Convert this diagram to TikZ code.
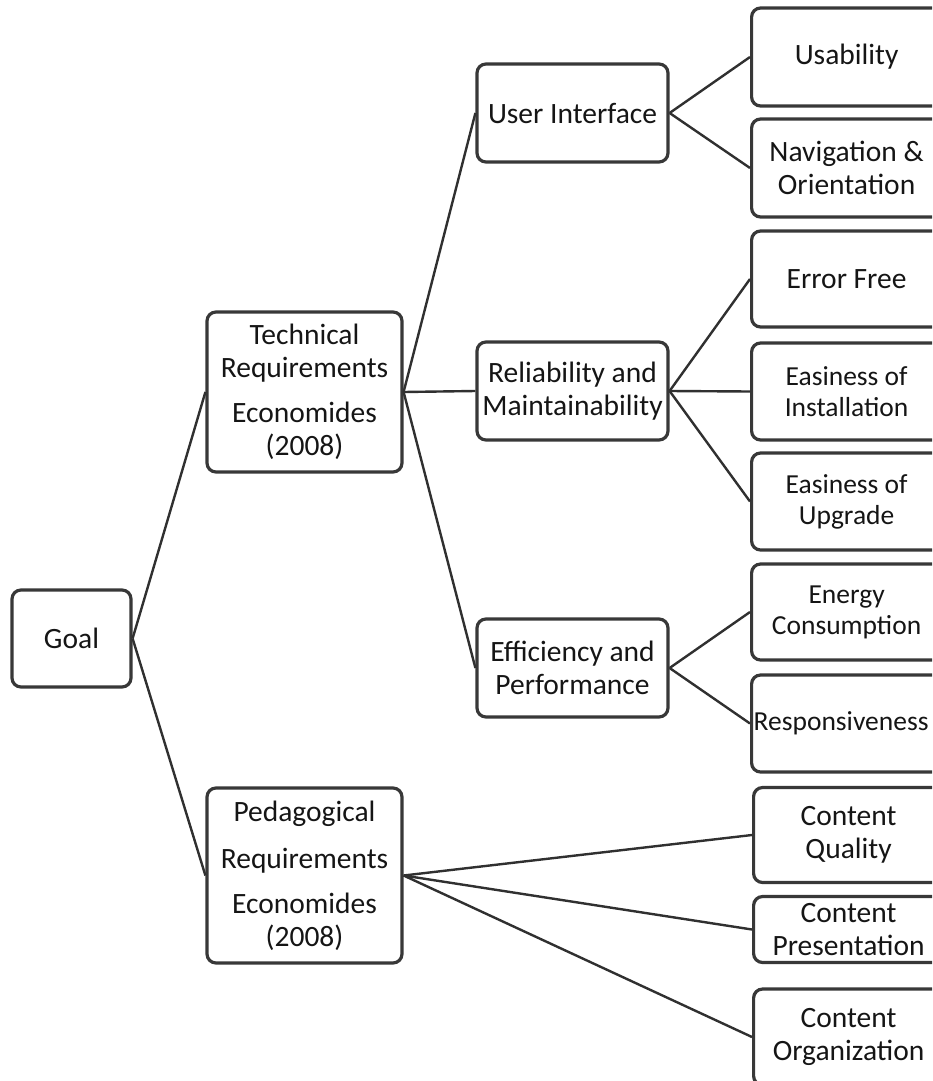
\documentclass[tikz,border=0pt]{standalone}
\usepackage{fontspec}
\setmainfont{Carlito}
\definecolor{boxc}{HTML}{383838}
\definecolor{linec}{HTML}{303030}
\definecolor{txt}{HTML}{151515}
\begin{document}
\begin{tikzpicture}[x=1pt,y=-1pt,
  box/.style={draw=boxc, line width=3.2pt, rounded corners=9pt, inner sep=0pt, align=center,
    font=\fontsize{29.5}{33}\selectfont, text=txt},
  leaf/.style={box, anchor=west, minimum width=190pt},
  small/.style={font=\fontsize{27.5}{31}\selectfont},
  link/.style={draw=linec, line width=2.4pt}]
\useasboundingbox (0,0) rectangle (932,1081);
\clip (0,0) rectangle (932,1081);

% root
\node[box, minimum width=119pt, minimum height=97pt] (goal) at (71.5,638.5) {Goal};

% level 1
\node[box, minimum width=195pt, minimum height=160pt] (tech) at (304.5,392)
  {Technical\\Requirements\\[12pt]Economides\\(2008)};
\node[box, minimum width=195pt, minimum height=175pt] (ped) at (304.5,875.5)
  {Pedagogical\\[14pt]Requirements\\[12pt]Economides\\(2008)};

% level 2
\node[box, minimum width=191pt, minimum height=98pt] (ui) at (572.5,113) {User Interface};
\node[box, minimum width=191pt, minimum height=98pt] (rel) at (572.5,391) {Reliability and\\Maintainability};
\node[box, minimum width=191pt, minimum height=98pt] (eff) at (572.5,668) {Efficiency and\\Performance};

% level 3 (right column, clipped at the right edge)
\node[leaf, minimum height=98pt] (usab) at (750,57) {Usability};
\node[leaf, minimum height=98pt] (nav) at (750,168) {Navigation \&\\Orientation};
\node[leaf, minimum height=96pt] (err) at (750,279) {Error Free};
\node[leaf, small, minimum height=97pt] (inst) at (750,391.5) {Easiness of\\Installation};
\node[leaf, small, minimum height=97pt] (upg) at (750,501.5) {Easiness of\\Upgrade};
\node[leaf, small, minimum height=96pt] (ener) at (750,612) {Energy\\Consumption};
\node[leaf, small, minimum height=97pt] (resp) at (750,723.5) {Responsiveness\hspace*{11pt}};
\node[leaf, minimum height=95pt] (cq) at (752,835) {Content\\Quality};
\node[leaf, minimum height=66pt] (cp) at (752,929.5) {Content\\Presentation};
\node[leaf, minimum height=96pt] (co) at (752,1037) {Content\\Organization};

% connectors
\draw[link] (goal.east) -- (tech.west);
\draw[link] (goal.east) -- (ped.west);
\draw[link] (tech.east) -- (ui.west);
\draw[link] (tech.east) -- (rel.west);
\draw[link] (tech.east) -- (eff.west);
\draw[link] (ui.east) -- (usab.west);
\draw[link] (ui.east) -- (nav.west);
\draw[link] (rel.east) -- (err.west);
\draw[link] (rel.east) -- (inst.west);
\draw[link] (rel.east) -- (upg.west);
\draw[link] (eff.east) -- (ener.west);
\draw[link] (eff.east) -- (resp.west);
\draw[link] (ped.east) -- (cq.west);
\draw[link] (ped.east) -- (cp.west);
\draw[link] (ped.east) -- (co.west);
\end{tikzpicture}
\end{document}
